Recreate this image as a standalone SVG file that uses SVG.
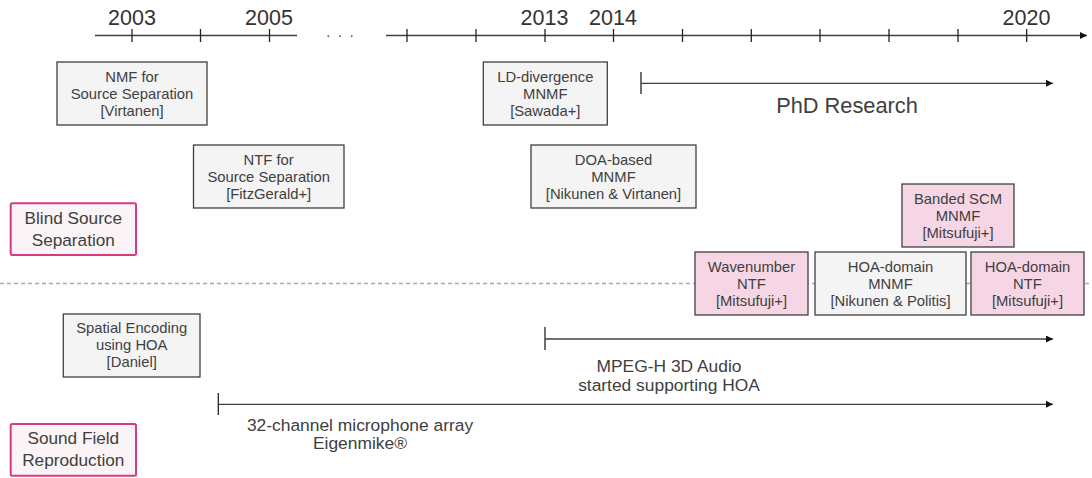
<svg xmlns="http://www.w3.org/2000/svg" width="1092" height="478" viewBox="0 0 1092 478">
<defs>
<marker id="ah" markerUnits="userSpaceOnUse" markerWidth="8" markerHeight="8" refX="7" refY="3.5" orient="auto">
<path d="M0,0 L7,3.5 L0,7 z" fill="#111"/>
</marker>
<style>
text{font-family:"Liberation Sans",Arial,sans-serif;fill:#404040;text-anchor:middle}
.yr{font-size:21.5px;fill:#333}
.nt{font-size:14.8px}
.lb{font-size:17.2px}
.an{font-size:17.4px}
.ax{stroke:#404040;stroke-width:1.3;fill:none}
.tk{stroke:#222;stroke-width:1.3}
.box{fill:#f4f4f4;stroke:#404040;stroke-width:1.3}
.pk{fill:#f6d6e5;stroke:#404040;stroke-width:1.3}
.cat{fill:#fbf4f7;stroke:#d63a82;stroke-width:2}
.arr{stroke:#404040;stroke-width:1.3;fill:none;marker-end:url(#ah)}
</style>
</defs>
<rect width="1092" height="478" fill="#fff"/>
<line x1="0" y1="283.5" x2="1092" y2="283.5" stroke="#aaa" stroke-width="1.3" stroke-dasharray="4 3"/>
<g id="timeline">
<line class="ax" x1="95" y1="35.5" x2="297" y2="35.5"/>
<line class="arr" x1="386" y1="35.5" x2="1087" y2="35.5"/>
<g class="tk">
<line x1="132" y1="29" x2="132" y2="42"/><line x1="200.5" y1="29" x2="200.5" y2="42"/><line x1="269.5" y1="29" x2="269.5" y2="42"/>
<line x1="407" y1="29" x2="407" y2="42"/><line x1="476" y1="29" x2="476" y2="42"/><line x1="545" y1="29" x2="545" y2="42"/>
<line x1="613.5" y1="29" x2="613.5" y2="42"/><line x1="682.5" y1="29" x2="682.5" y2="42"/><line x1="751.3" y1="29" x2="751.3" y2="42"/>
<line x1="820" y1="29" x2="820" y2="42"/><line x1="889" y1="29" x2="889" y2="42"/><line x1="958" y1="29" x2="958" y2="42"/>
<line x1="1026.7" y1="29" x2="1026.7" y2="42"/>
</g>
<text x="326.3" y="37" style="font-size:14px;text-anchor:start;letter-spacing:7.8px;fill:#333">...</text>
<text class="yr" x="132" y="25">2003</text>
<text class="yr" x="269" y="25">2005</text>
<text class="yr" x="544.5" y="25">2013</text>
<text class="yr" x="613" y="25">2014</text>
<text class="yr" x="1026.5" y="25">2020</text>
</g>
<g id="connectors">
<line class="tk" x1="641" y1="72" x2="641" y2="94"/>
<line class="arr" x1="641" y1="83.3" x2="1053" y2="83.3"/>
<line class="tk" x1="545" y1="327" x2="545" y2="350"/>
<line class="arr" x1="545" y1="339" x2="1053" y2="339"/>
<line class="tk" x1="218.3" y1="393" x2="218.3" y2="415"/>
<line class="arr" x1="218.3" y1="404.3" x2="1053" y2="404.3"/>
</g>
<g id="phd"><text x="847" y="113" style="font-size:21.8px">PhD Research</text></g>
<g id="mpeg"><text class="an" x="669" y="372">MPEG-H 3D Audio</text><text class="an" x="669" y="391">started supporting HOA</text></g>
<g id="eigenmike"><text class="an" x="360" y="431">32-channel microphone array</text><text class="an" x="360" y="449">Eigenmike®</text></g>
<g id="nmf"><rect class="box" x="57" y="62" width="150" height="63"/>
<text class="nt" x="132" y="81.5">NMF for</text><text class="nt" x="132" y="99">Source Separation</text><text class="nt" x="132" y="116">[Virtanen]</text></g>
<g id="ntf"><rect class="box" x="193.5" y="145" width="150.5" height="63"/>
<text class="nt" x="268.7" y="164.5">NTF for</text><text class="nt" x="268.7" y="182">Source Separation</text><text class="nt" x="268.7" y="199">[FitzGerald+]</text></g>
<g id="ld"><rect class="box" x="483.3" y="62" width="124" height="63"/>
<text class="nt" x="545.3" y="81.5">LD-divergence</text><text class="nt" x="545.3" y="99">MNMF</text><text class="nt" x="545.3" y="116">[Sawada+]</text></g>
<g id="doa"><rect class="box" x="531" y="145" width="165" height="63"/>
<text class="nt" x="613.5" y="164.5">DOA-based</text><text class="nt" x="613.5" y="182">MNMF</text><text class="nt" x="613.5" y="199">[Nikunen &amp; Virtanen]</text></g>
<g id="banded"><rect class="pk" x="902" y="184" width="112" height="63"/>
<text class="nt" x="958" y="203.5">Banded SCM</text><text class="nt" x="958" y="221">MNMF</text><text class="nt" x="958" y="238">[Mitsufuji+]</text></g>
<g id="wavenumber"><rect class="pk" x="695" y="252" width="113" height="63"/>
<text class="nt" x="751.5" y="271.5">Wavenumber</text><text class="nt" x="751.5" y="289">NTF</text><text class="nt" x="751.5" y="306">[Mitsufuji+]</text></g>
<g id="hoa-mnmf"><rect class="box" x="815" y="252" width="151" height="63"/>
<text class="nt" x="890.5" y="271.5">HOA-domain</text><text class="nt" x="890.5" y="289">MNMF</text><text class="nt" x="890.5" y="306">[Nikunen &amp; Politis]</text></g>
<g id="hoa-ntf"><rect class="pk" x="971" y="252" width="113" height="63"/>
<text class="nt" x="1027.5" y="271.5">HOA-domain</text><text class="nt" x="1027.5" y="289">NTF</text><text class="nt" x="1027.5" y="306">[Mitsufuji+]</text></g>
<g id="spatial"><rect class="box" x="63.3" y="314" width="136.7" height="63"/>
<text class="nt" x="131.7" y="332.5">Spatial Encoding</text><text class="nt" x="131.7" y="350">using HOA</text><text class="nt" x="131.7" y="367">[Daniel]</text></g>
<g id="bss"><rect class="cat" x="10.7" y="203.3" width="125.3" height="51.7" rx="1.5"/>
<text class="lb" x="73.3" y="224">Blind Source</text><text class="lb" x="73.3" y="245.5">Separation</text></g>
<g id="sfr"><rect class="cat" x="10.7" y="424" width="125.3" height="51.7" rx="1.5"/>
<text class="lb" x="73.3" y="444">Sound Field</text><text class="lb" x="73.3" y="466">Reproduction</text></g>
</svg>
